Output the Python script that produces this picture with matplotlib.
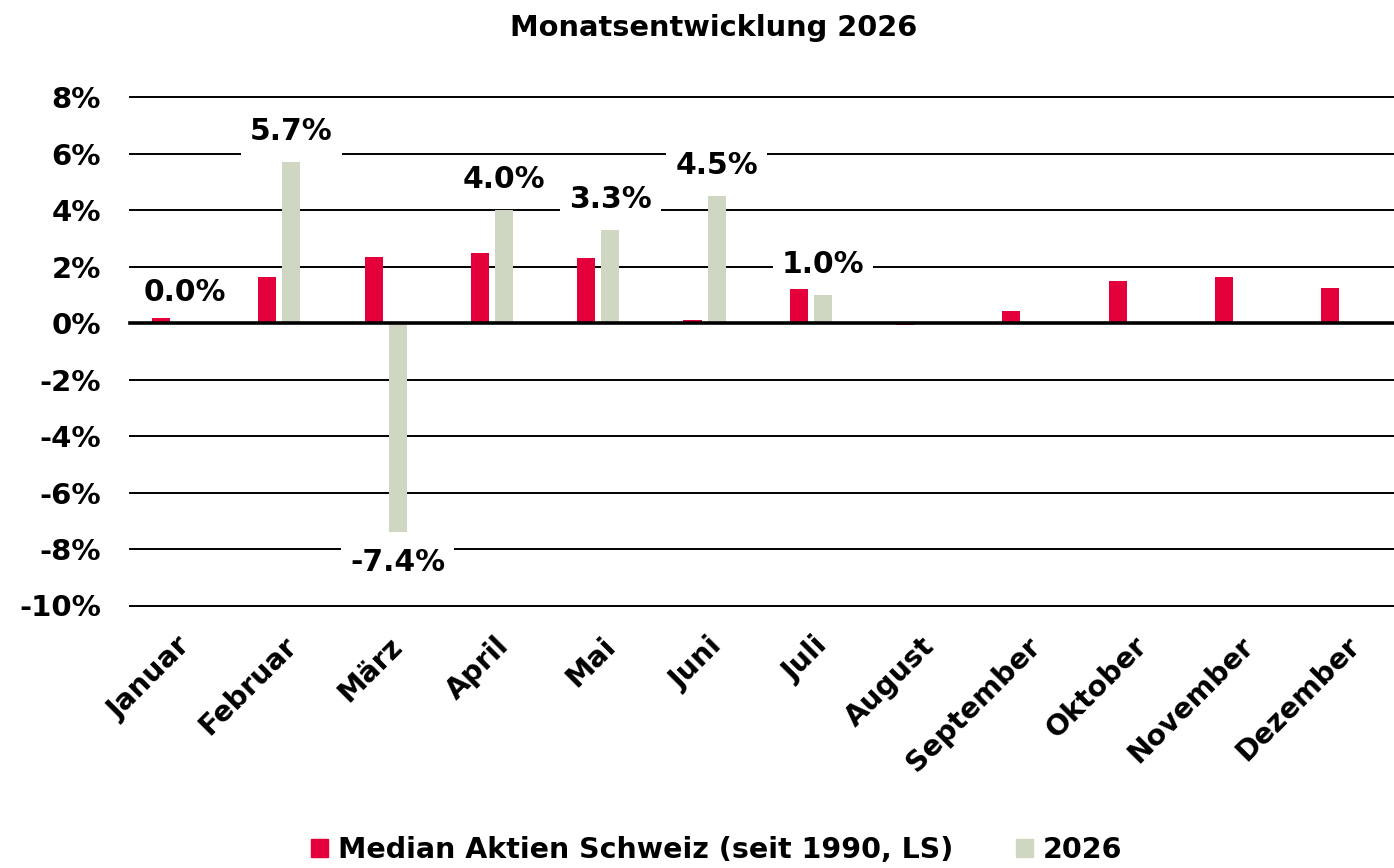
import matplotlib
matplotlib.use("Agg")
import matplotlib.pyplot as plt
import matplotlib.transforms as mtransforms
from matplotlib.patches import Patch
import numpy as np

# Data
months = ["Januar", "Februar", "März", "April", "Mai", "Juni", "Juli",
          "August", "September", "Oktober", "November", "Dezember"]
median_ch = [0.17, 1.65, 2.36, 2.49, 2.31, 0.12, 1.21, -0.06, 0.42, 1.49, 1.63, 1.26]
year_2026 = [0.0, 5.7, -7.4, 4.0, 3.3, 4.5, 1.0]
yticks = [-10, -8, -6, -4, -2, 0, 2, 4, 6, 8]

RED = "#E4003A"
GREEN = "#CFD7C3"

plt.rcParams['font.family'] = ['DejaVu Sans']
plt.rcParams['font.weight'] = 'bold'

fig = plt.figure(figsize=(13.94, 8.68), dpi=100)
ax = fig.add_axes([130 / 1394, 1 - 605.5 / 868, 1 - 130 / 1394, (605.5 - 97.3) / 868])

x = np.arange(len(months))
w = 0.17
off = 0.113

# Gridlines
for t in yticks:
    ax.axhline(t, color="black", lw=2.6 if t == 0 else 1.4, zorder=1 if t else 4,
               clip_on=False)

ax.bar(x - off, median_ch, width=w, color=RED, zorder=3)
x2 = x[:len(year_2026)] + off
ax.bar(x2, year_2026, width=w, color=GREEN, zorder=3)

# Data labels for 2026
for xi, v in zip(x2, year_2026):
    dy = 22 if v >= 0 else -22
    ax.annotate(f"{v:.1f}%", xy=(xi, v), xytext=(0, dy), textcoords="offset points",
                ha="center", va="center", fontsize=21.5, fontweight="bold", zorder=5,
                bbox=dict(boxstyle="square,pad=0.3", fc="white", ec="none"))

ax.set_xlim(-0.405, 11.486)
ax.set_ylim(-10, 8)
ax.set_yticks(yticks)
ax.set_yticklabels([f"{t}%" for t in yticks], fontsize=21, fontweight="bold")
ax.tick_params(axis="y", length=0, pad=21)
ax.set_xticks(x)
ax.set_xticklabels(months, fontsize=20.5, fontweight="bold", rotation=45,
                   ha="right", va="top", rotation_mode="anchor")
ax.tick_params(axis="x", length=0, pad=19)
shift = mtransforms.ScaledTranslation(0.03, 0, fig.dpi_scale_trans)
for lab in ax.get_xticklabels():
    lab.set_transform(lab.get_transform() + shift)

for s in ax.spines.values():
    s.set_visible(False)

fig.text(0.512, 0.968, "Monatsentwicklung 2026", ha="center", va="center",
         fontsize=20.8, fontweight="bold")

handles = [Patch(color=RED, label="Median Aktien Schweiz (seit 1990, LS)"),
           Patch(color=GREEN, label="2026")]
fig.legend(handles=handles, loc="center", bbox_to_anchor=(0.514, 0.021), ncol=2,
           frameon=False, prop=dict(size=20.5, weight="bold"), handlelength=0.6,
           handleheight=0.6, handletextpad=0.35, columnspacing=2.2, borderpad=0)

fig.savefig("out.png", dpi=100)
